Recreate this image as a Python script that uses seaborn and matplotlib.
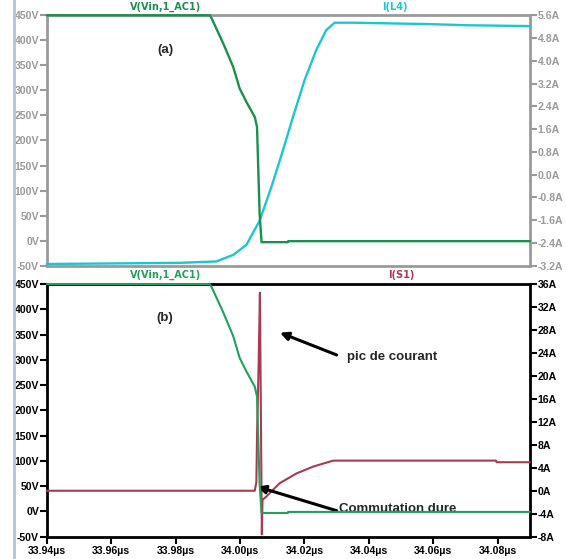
import numpy as np
import pandas as pd
import matplotlib
matplotlib.use("Agg")
import matplotlib.pyplot as plt
from matplotlib.lines import Line2D
from matplotlib.ticker import FixedLocator, FixedFormatter
import seaborn as sns

# ---------------- data ----------------
# V(Vin,1_AC1) shared by both panels (time in µs, volts)
v_t = [33.94, 33.9906, 33.9912, 33.9948, 33.9979, 33.9999, 34.0020, 34.0046,
       34.0053, 34.0061, 34.0067, 34.0149, 34.0150, 34.09]
v_v = [450, 450, 444, 394, 347, 304, 277, 247, 227, 55, -3, -3, -1, -1]

# I(L4) panel (a) (amps)
il_t = [33.94, 33.9813, 33.9927, 33.9979, 34.0020, 34.0061, 34.0098, 34.0134,
        34.0165, 34.0201, 34.0237, 34.0268, 34.0294, 34.0351, 34.0589,
        34.0706, 34.09]
il_i = [-3.14, -3.10, -3.05, -2.82, -2.47, -1.62, -0.42, 0.87, 2.04, 3.33,
        4.38, 5.08, 5.34, 5.34, 5.29, 5.25, 5.22]

# I(S1) panel (b) (amps)
is_t = [33.94, 34.0046, 34.0051, 34.0053, 34.0058, 34.0062, 34.0068, 34.0070,
        34.0082, 34.0123, 34.0175, 34.0227, 34.0289, 34.0300, 34.0795,
        34.0797, 34.09]
is_i = [0.0, 0.0, 1.5, 9.5, 22.0, 34.5, -7.6, -1.6, -1.0, 1.3, 3.0, 4.2,
        5.24, 5.25, 5.25, 4.97, 4.97]

# tick labels
x_ticks = [33.94, 33.96, 33.98, 34.00, 34.02, 34.04, 34.06, 34.08]
x_labels = [f"{v:.2f}\u00b5s" for v in x_ticks]
v_ticks = [-50, 0, 50, 100, 150, 200, 250, 300, 350, 400, 450]
v_labels = [f"{v}V" for v in v_ticks]
ia_ticks = [-3.2, -2.4, -1.6, -0.8, 0.0, 0.8, 1.6, 2.4, 3.2, 4.0, 4.8, 5.6]
ia_labels = ["-3.2A", "-2.4A", "-1.6A", "-0.8A", "0.0A", "0.8A", "1.6A",
             "2.4A", "3.2A", "4.0A", "4.8A", "5.6A"]
ib_ticks = [-8, -4, 0, 4, 8, 12, 16, 20, 24, 28, 32, 36]
ib_labels = [f"{v}A" for v in ib_ticks]

# ---------------- styling ----------------
sns.set_style("white")
plt.rcParams['font.family'] = ['Liberation Sans', 'DejaVu Sans']

GREEN_A = "#1b8f4e"
GREEN_B = "#22a05a"
CYAN = "#1cc6d0"
RED = "#a83a52"
GRAY = "#9a9a9a"

fig = plt.figure(figsize=(5.66, 5.59), dpi=100)
W, H = 566, 559
def rect(l, t, r, b):
    return [l / W, 1 - b / H, (r - l) / W, (b - t) / H]

ax_a = fig.add_axes(rect(46.7, 15.3, 529.5, 265.7))
ax_b = fig.add_axes(rect(46.7, 284, 529.5, 536.7))
ax_a2 = ax_a.twinx()
ax_b2 = ax_b.twinx()
# voltage axes on top so the green trace shows over the frame
for ax, ax2 in ((ax_a, ax_a2), (ax_b, ax_b2)):
    ax.set_zorder(ax2.get_zorder() + 1)
    ax.patch.set_visible(False)

df_v = pd.DataFrame({"t": v_t, "v": v_v})
df_il = pd.DataFrame({"t": il_t, "i": il_i})
df_is = pd.DataFrame({"t": is_t, "i": is_i})

sns.lineplot(data=df_v, x="t", y="v", ax=ax_a, color=GREEN_A, lw=1.7,
             estimator=None, sort=False, clip_on=False, zorder=4)
sns.lineplot(data=df_il, x="t", y="i", ax=ax_a2, color=CYAN, lw=1.7,
             estimator=None, sort=False, clip_on=False, zorder=4)
sns.lineplot(data=df_v, x="t", y="v", ax=ax_b, color=GREEN_B, lw=1.5,
             estimator=None, sort=False, clip_on=False, zorder=4)
sns.lineplot(data=df_is, x="t", y="i", ax=ax_b2, color=RED, lw=1.5,
             estimator=None, sort=False, clip_on=False, zorder=4)

xmin, xmax = 33.94, 34.0899
for ax in (ax_a, ax_b, ax_a2, ax_b2):
    ax.set_xlim(xmin, xmax)
    ax.set_xlabel("")
    ax.set_ylabel("")

ax_a.set_ylim(-50, 450)
ax_b.set_ylim(-50, 450)
ax_a2.set_ylim(-3.2, 5.6)
ax_b2.set_ylim(-8, 36)

FS = 7.6

def style(ax, ax2, col, lab_col, rt, rl, show_x):
    for s in ax.spines.values():
        s.set_visible(False)
    for s in ax2.spines.values():
        s.set_color(col)
        s.set_linewidth(2.0)
    ax.yaxis.set_major_locator(FixedLocator(v_ticks))
    ax.yaxis.set_major_formatter(FixedFormatter(v_labels))
    ax2.yaxis.set_major_locator(FixedLocator(rt))
    ax2.yaxis.set_major_formatter(FixedFormatter(rl))
    ax.tick_params(axis="y", direction="out", length=5, width=1.5, color=col,
                   labelcolor=lab_col, pad=0.5, left=True)
    ax2.tick_params(axis="y", direction="out", length=5, width=1.5, color=col,
                    labelcolor=lab_col, pad=1.0, right=True)
    for lbl in ax.get_yticklabels() + ax2.get_yticklabels():
        lbl.set_fontsize(FS)
        lbl.set_fontweight("bold")
    ax2.set_xticks([])
    if show_x:
        ax.xaxis.set_major_locator(FixedLocator(x_ticks))
        ax.xaxis.set_major_formatter(FixedFormatter(x_labels))
        ax.tick_params(axis="x", direction="out", length=5, width=1.5,
                       color=col, labelcolor=lab_col, pad=1.5, bottom=True)
        for lbl in ax.get_xticklabels():
            lbl.set_fontsize(FS)
            lbl.set_fontweight("bold")
    else:
        ax.set_xticks([])

style(ax_a, ax_a2, GRAY, GRAY, ia_ticks, ia_labels, False)
style(ax_b, ax_b2, "black", "black", ib_ticks, ib_labels, True)

# panel tags
ax_a.text(0.245, 0.861, "(a)", transform=ax_a.transAxes, ha="center",
          va="center", fontsize=9.5, fontweight="bold")
ax_b.text(0.245, 0.865, "(b)", transform=ax_b.transAxes, ha="center",
          va="center", fontsize=9.5, fontweight="bold")

# trace names
nm = dict(ha="center", va="center", fontsize=7, fontweight="bold",
          family=["DejaVu Sans"])
fig.text(166 / W, 1 - 7 / H, "V(Vin,1_AC1)", color=GREEN_A, **nm)
fig.text(395 / W, 1 - 7 / H, "I(L4)", color=CYAN, **nm)
fig.text(166 / W, 1 - 275 / H, "V(Vin,1_AC1)", color=GREEN_B, **nm)
fig.text(401 / W, 1 - 275 / H, "I(S1)", color=RED, **nm)

# annotations
ap = dict(arrowstyle="-|>", color="black", lw=2.2, mutation_scale=12,
          shrinkA=0, shrinkB=0)
ax_b.annotate("", xy=(0.4832, 0.8074), xytext=(0.6006, 0.7192),
              xycoords="axes fraction", textcoords="axes fraction",
              arrowprops=ap)
ax_b.text(0.715, 0.711, "pic de courant", transform=ax_b.transAxes,
          ha="center", va="center", fontsize=9.5, fontweight="bold")
ax_b.annotate("", xy=(0.4362, 0.1979), xytext=(0.6006, 0.1029),
              xycoords="axes fraction", textcoords="axes fraction",
              arrowprops=ap)
ax_b.text(0.7276, 0.1096, "Commutation dure", transform=ax_b.transAxes,
          ha="center", va="center", fontsize=9.5, fontweight="bold")

# window border line on the left
fig.add_artist(Line2D([13.5 / W, 13.5 / W], [0, 1], transform=fig.transFigure,
                      color="#b4c4d6", lw=2))

fig.savefig("out.png", dpi=100)
